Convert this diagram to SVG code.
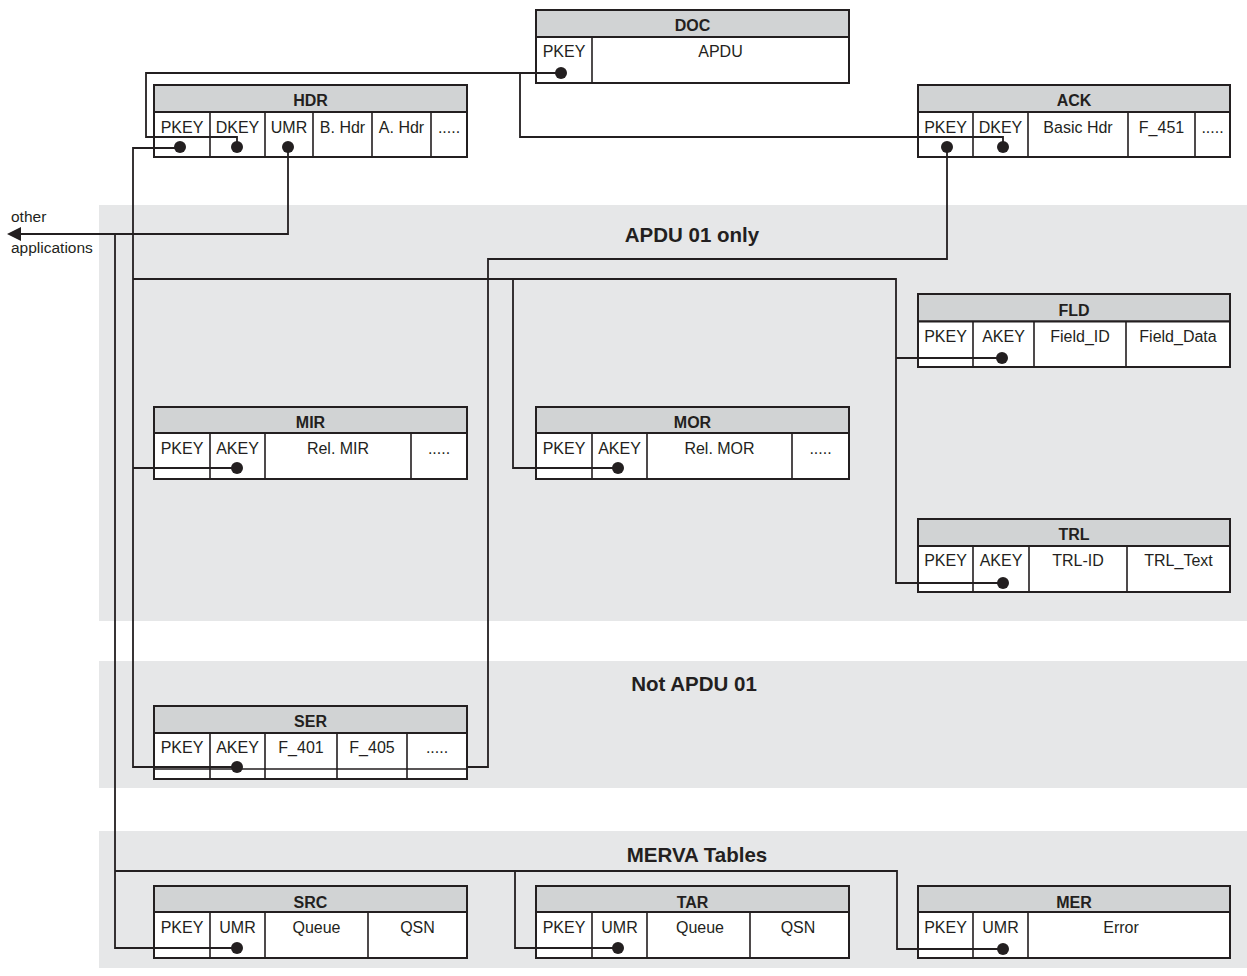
<svg xmlns="http://www.w3.org/2000/svg" width="1247" height="976" viewBox="0 0 1247 976">
<style>
.band{fill:#e6e7e8}
.hd{fill:#d1d3d4;stroke:#231f20;stroke-width:2}
.bd{fill:#ffffff;stroke:#231f20;stroke-width:2}
.col{fill:none;stroke:#231f20;stroke-width:1.6}
.th{font-family:"Liberation Sans",Arial,sans-serif;font-weight:bold;font-size:16px;fill:#231f20;text-anchor:middle}
.td{font-family:"Liberation Sans",Arial,sans-serif;font-size:16px;fill:#231f20;text-anchor:middle}
.title{font-family:"Liberation Sans",Arial,sans-serif;font-weight:bold;font-size:20.5px;fill:#231f20;text-anchor:middle}
.lbl{font-family:"Liberation Sans",Arial,sans-serif;font-size:15.5px;fill:#231f20}
.cn{fill:none;stroke:#231f20;stroke-width:1.8}
.dot{fill:#231f20}
</style>
<rect width="1247" height="976" fill="#ffffff"/>
<g id="bands">
<rect class="band" x="99" y="205" width="1148" height="416"/>
<rect class="band" x="99" y="661" width="1148" height="127"/>
<rect class="band" x="99" y="831" width="1148" height="137"/>
<text class="title" x="692" y="242">APDU 01 only</text>
<text class="title" x="694" y="691">Not APDU 01</text>
<text class="title" x="697" y="862">MERVA Tables</text>
</g>
<g id="other-apps">
<text class="lbl" x="11" y="221.5">other</text>
<text class="lbl" x="11" y="253">applications</text>
</g>
<g id="DOC">
<rect class="hd" x="536" y="10" width="313" height="27"/>
<rect class="bd" x="536" y="37" width="313" height="46"/>
<path class="col" d="M592 37V83"/>
<text class="th" x="692.5" y="31">DOC</text>
<text class="td" x="564" y="56.5">PKEY</text>
<text class="td" x="720.5" y="56.5">APDU</text>
</g>
<g id="HDR">
<rect class="hd" x="154" y="85" width="313" height="27"/>
<rect class="bd" x="154" y="112" width="313" height="45"/>
<path class="col" d="M210 112V157M265 112V157M313 112V157M372 112V157M431 112V157"/>
<text class="th" x="310.5" y="106">HDR</text>
<text class="td" x="182" y="132.5">PKEY</text>
<text class="td" x="237.5" y="132.5">DKEY</text>
<text class="td" x="289" y="132.5">UMR</text>
<text class="td" x="342.5" y="132.5">B. Hdr</text>
<text class="td" x="401.5" y="132.5">A. Hdr</text>
<text class="td" x="449" y="132.5">.....</text>
</g>
<g id="ACK">
<rect class="hd" x="918" y="85" width="312" height="27"/>
<rect class="bd" x="918" y="112" width="312" height="45"/>
<path class="col" d="M973 112V157M1028 112V157M1128 112V157M1195 112V157"/>
<text class="th" x="1074" y="106">ACK</text>
<text class="td" x="945.5" y="132.5">PKEY</text>
<text class="td" x="1000.5" y="132.5">DKEY</text>
<text class="td" x="1078" y="132.5">Basic Hdr</text>
<text class="td" x="1161.5" y="132.5">F_451</text>
<text class="td" x="1212.5" y="132.5">.....</text>
</g>
<g id="FLD">
<rect class="hd" x="918" y="294" width="312" height="27.5"/>
<rect class="bd" x="918" y="321.5" width="312" height="45.5"/>
<path class="col" d="M973 321.5V367M1034 321.5V367M1126 321.5V367"/>
<text class="th" x="1074" y="315.5">FLD</text>
<text class="td" x="945.5" y="341.5">PKEY</text>
<text class="td" x="1003.5" y="341.5">AKEY</text>
<text class="td" x="1080" y="341.5">Field_ID</text>
<text class="td" x="1178" y="341.5">Field_Data</text>
</g>
<g id="MIR">
<rect class="hd" x="154" y="407" width="313" height="26"/>
<rect class="bd" x="154" y="433" width="313" height="46"/>
<path class="col" d="M210 433V479M265 433V479M411 433V479"/>
<text class="th" x="310.5" y="427.5">MIR</text>
<text class="td" x="182" y="454">PKEY</text>
<text class="td" x="237.5" y="454">AKEY</text>
<text class="td" x="338" y="454">Rel. MIR</text>
<text class="td" x="439" y="454">.....</text>
</g>
<g id="MOR">
<rect class="hd" x="536" y="407" width="313" height="26"/>
<rect class="bd" x="536" y="433" width="313" height="46"/>
<path class="col" d="M592 433V479M647 433V479M792 433V479"/>
<text class="th" x="692.5" y="427.5">MOR</text>
<text class="td" x="564" y="454">PKEY</text>
<text class="td" x="619.5" y="454">AKEY</text>
<text class="td" x="719.5" y="454">Rel. MOR</text>
<text class="td" x="820.5" y="454">.....</text>
</g>
<g id="TRL">
<rect class="hd" x="918" y="519" width="312" height="27"/>
<rect class="bd" x="918" y="546" width="312" height="46"/>
<path class="col" d="M973 546V592M1029 546V592M1127 546V592"/>
<text class="th" x="1074" y="540">TRL</text>
<text class="td" x="945.5" y="566">PKEY</text>
<text class="td" x="1001" y="566">AKEY</text>
<text class="td" x="1078" y="566">TRL-ID</text>
<text class="td" x="1178.5" y="566">TRL_Text</text>
</g>
<g id="SER">
<rect class="hd" x="154" y="706" width="313" height="27"/>
<rect class="bd" x="154" y="733" width="313" height="46"/>
<path class="col" d="M210 733V779M265 733V779M337 733V779M407 733V779M154 769H467"/>
<text class="th" x="310.5" y="727">SER</text>
<text class="td" x="182" y="752.5">PKEY</text>
<text class="td" x="237.5" y="752.5">AKEY</text>
<text class="td" x="301" y="752.5">F_401</text>
<text class="td" x="372" y="752.5">F_405</text>
<text class="td" x="437" y="752.5">.....</text>
</g>
<g id="SRC">
<rect class="hd" x="154" y="886" width="313" height="26"/>
<rect class="bd" x="154" y="912" width="313" height="46"/>
<path class="col" d="M210 912V958M265 912V958M368 912V958"/>
<text class="th" x="310.5" y="907.5">SRC</text>
<text class="td" x="182" y="933">PKEY</text>
<text class="td" x="237.5" y="933">UMR</text>
<text class="td" x="316.5" y="933">Queue</text>
<text class="td" x="417.5" y="933">QSN</text>
</g>
<g id="TAR">
<rect class="hd" x="536" y="886" width="313" height="26"/>
<rect class="bd" x="536" y="912" width="313" height="46"/>
<path class="col" d="M592 912V958M647 912V958M750 912V958"/>
<text class="th" x="692.5" y="907.5">TAR</text>
<text class="td" x="564" y="933">PKEY</text>
<text class="td" x="619.5" y="933">UMR</text>
<text class="td" x="700" y="933">Queue</text>
<text class="td" x="798" y="933">QSN</text>
</g>
<g id="MER">
<rect class="hd" x="918" y="886" width="312" height="26"/>
<rect class="bd" x="918" y="912" width="312" height="46"/>
<path class="col" d="M973 912V958M1028 912V958"/>
<text class="th" x="1074" y="907.5">MER</text>
<text class="td" x="945.5" y="933">PKEY</text>
<text class="td" x="1000.5" y="933">UMR</text>
<text class="td" x="1121" y="933">Error</text>
</g>
<g id="connectors">
<path class="cn" d="M561 73H146V137H237V147"/>
<path class="cn" d="M520 73V137H1003V147"/>
<path class="cn" d="M180 148H133V767H237"/>
<path class="cn" d="M133 279H896V583H1003"/>
<path class="cn" d="M896 358H1002"/>
<path class="cn" d="M513 279V468H618"/>
<path class="cn" d="M133 468H237"/>
<path class="cn" d="M288 147V234H19"/>
<polygon class="dot" points="7,234 21,227 21,241"/>
<path class="cn" d="M115 234V948H237"/>
<path class="cn" d="M115 871H897V949H1003"/>
<path class="cn" d="M515 870V948H618"/>
<path class="cn" d="M947 147V259H488V767H467"/>
<circle class="dot" cx="561" cy="73" r="6"/>
<circle class="dot" cx="180" cy="147" r="6"/>
<circle class="dot" cx="237" cy="147" r="6"/>
<circle class="dot" cx="288" cy="147" r="6"/>
<circle class="dot" cx="947" cy="147" r="6"/>
<circle class="dot" cx="1003" cy="147" r="6"/>
<circle class="dot" cx="1002" cy="358" r="6"/>
<circle class="dot" cx="237" cy="468" r="6"/>
<circle class="dot" cx="618" cy="468" r="6"/>
<circle class="dot" cx="1003" cy="583" r="6"/>
<circle class="dot" cx="237" cy="767" r="6"/>
<circle class="dot" cx="237" cy="948" r="6"/>
<circle class="dot" cx="618" cy="948" r="6"/>
<circle class="dot" cx="1003" cy="949" r="6"/>
</g>
</svg>
